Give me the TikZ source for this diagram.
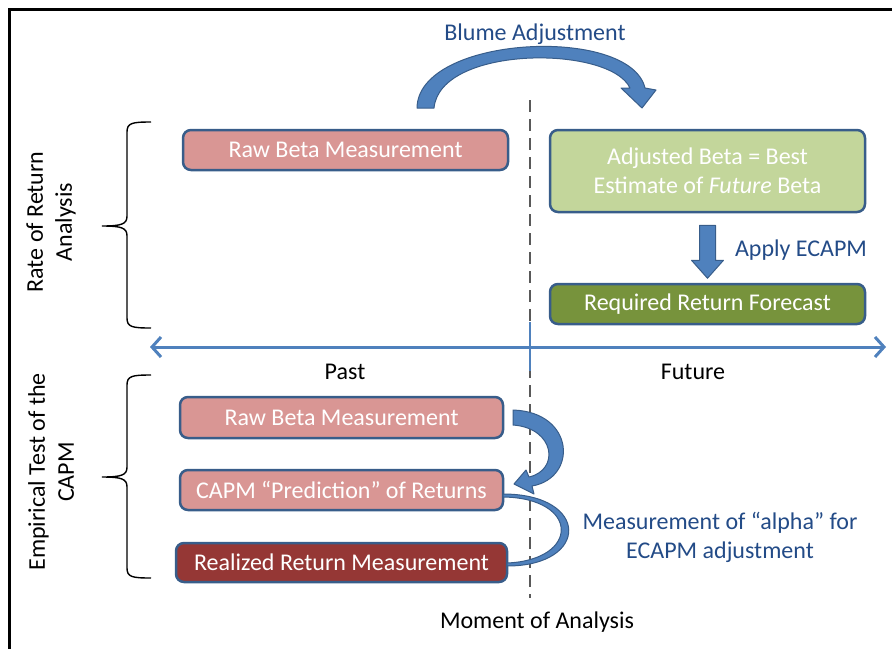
\documentclass[tikz,border=0pt]{standalone}
\usepackage{fontspec}
\setmainfont{Carlito}
\usetikzlibrary{arrows.meta}

\definecolor{boxedge}{HTML}{385D8A}
\definecolor{pinkfill}{HTML}{D99694}
\definecolor{lightgreen}{HTML}{C3D69B}
\definecolor{darkgreen}{HTML}{77933C}
\definecolor{darkred}{HTML}{953735}
\definecolor{arrowblue}{HTML}{4F81BD}
\definecolor{labelblue}{RGB}{35,75,135}
\definecolor{dashgray}{HTML}{595959}

\begin{document}
\begin{tikzpicture}[x=1pt,y=-1pt,
    every node/.style={font=\fontsize{24}{29}\selectfont},
    stage/.style={draw=boxedge, line width=2.5pt, rounded corners=8pt, text=white, inner sep=0pt, align=center},
    bluetext/.style={text=labelblue, align=center},
    bigarrow/.style={fill=arrowblue, draw=boxedge, line width=1pt, line join=round},
    sidebrace/.style={line width=1.4pt}
  ]
    \useasboundingbox (0,0) rectangle (892,649);
    \draw[line width=3.5pt] (892,9.5) -- (9.5,9.5) -- (9.5,649);

    % moment of analysis
    \draw[dashgray, line width=2.5pt, dash pattern=on 12pt off 7pt] (530,100) -- (530,598);
    \node (moment) at (537,622) {Moment of Analysis};

    % time line
    \coordinate (pastend) at (150,347);
    \coordinate (futend) at (886,347);
    \draw[arrowblue, line width=3pt, {Straight Barb[length=9pt, width=20pt]}-{Straight Barb[length=9pt, width=20pt]}]
        (pastend) -- (futend);
    \draw[arrowblue, line width=2.5pt] (530,322) -- (530,371);
    \node (past) at (345,372) {Past};
    \node (future) at (693,372) {Future};

    % rate of return analysis
    \node[stage, fill=pinkfill, minimum width=325pt, minimum height=40pt] (rawA) at (345.5,150) {Raw Beta Measurement};
    \node[stage, fill=lightgreen, minimum width=315pt, minimum height=82pt] (adj) at (707.5,171)
        {Adjusted Beta = Best\\Estimate of \emph{Future} Beta};
    \node[stage, fill=darkgreen, minimum width=315pt, minimum height=40pt] (req) at (707.5,304) {Required Return Forecast};
    \draw[bigarrow] ([shift={(-8,12)}]adj.south) -- ++(16,0) -- ++(0,35) -- ++(8,0) -- ++(-16,18)
        -- ++(-16,-18) -- ++(8,0) -- cycle;
    \node[bluetext] (apply) at (801,250) {Apply ECAPM};
    \draw[bigarrow] (417,108) .. controls (418,35) and (630,25) .. (645,88) -- (656,90) -- (642,108)
        -- (621,88) -- (630,88) .. controls (610,45) and (440,45) .. (434,108) -- cycle;
    \node[bluetext] (blume) at (535,34) {Blume Adjustment};

    % empirical test
    \node[stage, fill=pinkfill, minimum width=323pt, minimum height=41pt] (rawB) at (341.5,417.5) {Raw Beta Measurement};
    \node[stage, fill=pinkfill, minimum width=323pt, minimum height=40pt] (capm) at (341.5,490) {CAPM “Prediction” of Returns};
    \node[stage, fill=darkred, minimum width=331pt, minimum height=39pt] (real) at (341.5,562.5) {Realized Return Measurement};
    \draw[bigarrow] (513,410) .. controls (575,412) and (578,478) .. (532,486) -- (534,494) -- (514,484)
        -- (526,470) -- (529,477) .. controls (560,470) and (555,428) .. (513,425) -- cycle;
    \draw[bigarrow] (503,494) .. controls (590,494) and (590,566) .. (507,566) -- (507,563)
        .. controls (580,560) and (580,498) .. (503,497) -- cycle;
    \node[bluetext] (alpha) at (720,537) {Measurement of “alpha” for\\ECAPM adjustment};

    % braces
    \draw[sidebrace] (151,122) .. controls (132,122) and (127,123) .. (127,132) -- (127,216)
        .. controls (127,224) and (122,226) .. (102,226) .. controls (122,226) and (127,228) .. (127,236)
        -- (127,318) .. controls (127,327) and (132,328) .. (151,328);
    \draw[sidebrace] (151,375) .. controls (132,375) and (127,376) .. (127,385) -- (127,467)
        .. controls (127,475) and (122,477) .. (102,477) .. controls (122,477) and (127,479) .. (127,487)
        -- (127,568) .. controls (127,577) and (132,578) .. (151,578);
    \node[rotate=90, align=center] (rorlabel) at (51,222) {Rate of Return\\Analysis};
    \node[rotate=90, align=center] (emplabel) at (51,472) {Empirical Test of the\\CAPM};
\end{tikzpicture}
\end{document}
